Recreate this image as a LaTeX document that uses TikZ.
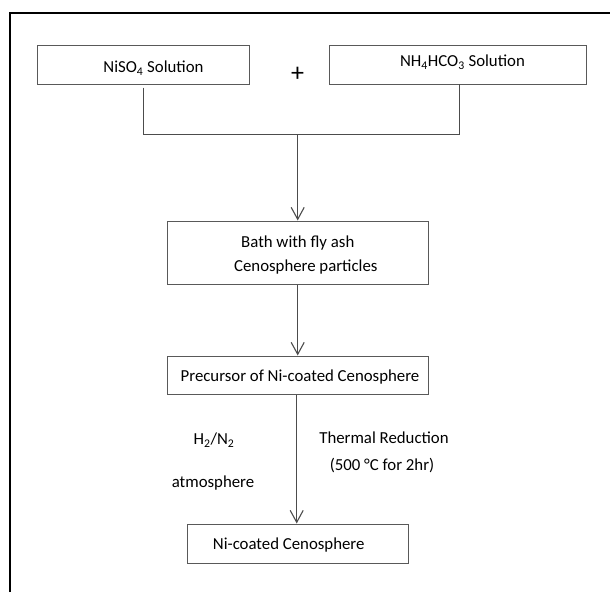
\documentclass[tikz,border=0pt]{standalone}
\usepackage{fontspec}
\setmainfont{Carlito}
\usetikzlibrary{arrows.meta}
\begin{document}
\begin{tikzpicture}[x=1pt,y=-1pt,
  box/.style={draw=black!65, line width=1pt, rectangle, inner sep=0pt},
  txt/.style={inner sep=0pt, font=\fontsize{16.8}{19}\selectfont, text=black},
  conn/.style={draw=black!70, line width=1pt},
  arr/.style={conn, -{Straight Barb[length=12pt,width=13pt,line width=1.1pt]}},
  frame/.style={draw=black, line width=2.5pt}]
\useasboundingbox (0,0) rectangle (610,592);
% outer frame (left and top only)
\coordinate (fa) at (10,592);
\coordinate (fb) at (10,13);
\coordinate (fc) at (610,13);
\draw[frame] (fa) -- (fb) -- (fc);
% boxes
\node[box, minimum width=212pt, minimum height=39pt] (niso) at (143,64.5) {};
\node[txt] (nisot) at (153.5,68) {NiSO\textsubscript{4} Solution};
\node[box, minimum width=257pt, minimum height=39pt] (nh) at (457.5,64.5) {};
\node[txt] (nht) at (462.5,62) {NH\textsubscript{4}HCO\textsubscript{3} Solution};
\node[txt, font=\fontsize{26}{28}\selectfont] (plus) at (297.7,74) {+};
\node[box, minimum width=261pt, minimum height=63pt] (bath) at (298.4,252.5) {};
\node[txt] (batht1) at (297.8,242.7) {Bath with fly ash};
\node[txt] (batht2) at (305.8,267) {Cenosphere particles};
\node[box, minimum width=261pt, minimum height=38pt] (prec) at (297.5,375) {};
\node[txt] (prect) at (300,377) {Precursor of Ni-coated Cenosphere};
\node[box, minimum width=221pt, minimum height=39pt] (nic) at (297.5,543.5) {};
\node[txt] (nict) at (288.7,545) {Ni-coated Cenosphere};
% side labels
\node[txt] (h2) at (214,440) {H\textsubscript{2}/N\textsubscript{2}};
\node[txt] (atm) at (213,483) {atmosphere};
\node[txt] (thr) at (384,438) {Thermal Reduction};
\node[txt] (tc) at (382,466) {(500 °C for 2hr)};
% connectors
\coordinate (l1) at (143.3,87.5);
\coordinate (l2) at (143.3,134);
\coordinate (r2) at (459,134);
\coordinate (r1) at (459,84);
\coordinate (m) at (297.7,134);
\draw[conn] (l1) -- (l2) -- (r2) -- (r1);
\draw[arr] (m) -- (m |- bath.north);
\draw[arr] (bath.south -| m) -- (prec.north -| m);
\draw[arr] ([xshift=-0.8pt]prec.south) -- ([xshift=-0.8pt]nic.north);
\end{tikzpicture}
\end{document}
